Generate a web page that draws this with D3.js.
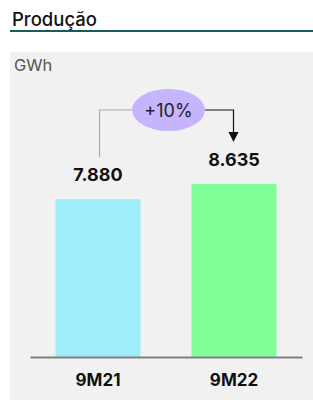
<!DOCTYPE html>
<html>
<head>
<meta charset="utf-8">
<script src="https://cdn.jsdelivr.net/npm/d3@7"></script>
<style>
  body { margin: 0; background: #fff; }
  text { font-family: Inter, "Noto Sans", sans-serif; }
</style>
</head>
<body>
<svg width="313" height="400"></svg>
<script>
// dados
var periodos = ["9M21", "9M22"];
var valores = [7880, 8635];
var rotulos = ["7.880", "8.635"];
var cores = ["#9deefa", "#80ff99"];
var variacao = "+10%";
var unidade = "GWh";
var titulo = "Produção";

var svg = d3.select("svg"),
  width = +svg.attr("width"),
  height = +svg.attr("height");

// titulo + linha
svg.append("text")
  .attr("x", 12).attr("y", 26)
  .attr("font-size", 18.5).attr("font-weight", 500)
  .attr("fill", "#111")
  .text(titulo);
svg.append("line")
  .attr("x1", 10).attr("x2", width)
  .attr("y1", 31).attr("y2", 31)
  .attr("stroke", "#1d5a5c").attr("stroke-width", 2);

// painel cinza
svg.append("rect")
  .attr("x", 10).attr("y", 52)
  .attr("width", width - 10).attr("height", height - 52)
  .attr("fill", "#f1f1f1");

svg.append("text")
  .attr("x", 14).attr("y", 71)
  .attr("font-size", 16.5).attr("fill", "#555")
  .text(unidade);

var base = 357;
var x = d3.scaleBand().domain(periodos).range([30, 302]).paddingInner(0.375).paddingOuter(0.1875);
var y = d3.scaleLinear().domain([0, 8635]).range([base, 184]);

// barras
svg.append("g").selectAll("rect")
  .data(valores)
  .enter().append("rect")
  .attr("x", function(d, i) { return x(periodos[i]); })
  .attr("y", function(d) { return y(d); })
  .attr("width", x.bandwidth())
  .attr("height", function(d) { return base - y(d); })
  .attr("fill", function(d, i) { return cores[i]; });

// eixo
var eixo = svg.append("g").attr("transform", "translate(0," + base + ")")
  .call(d3.axisBottom(x).tickSize(0).tickPadding(17));
eixo.select(".domain").attr("stroke", "#808080").attr("stroke-width", 2);
eixo.selectAll("text")
  .attr("font-size", 17).attr("font-weight", 700).attr("fill", "#111")
  .style("font-family", "Inter, sans-serif");

// valores
svg.append("g").selectAll("text")
  .data(valores)
  .enter().append("text")
  .attr("x", function(d, i) { return x(periodos[i]) + x.bandwidth() / 2; })
  .attr("y", function(d) { return y(d) - 18; })
  .attr("text-anchor", "middle")
  .attr("font-size", 18).attr("font-weight", 700).attr("fill", "#111")
  .text(function(d, i) { return rotulos[i]; });

// conector da variacao
var cx0 = x(periodos[0]) + x.bandwidth() / 2 + 1.5,
  cx1 = x(periodos[1]) + x.bandwidth() / 2 - 0.5,
  ex = 168.5, ey = 110, rx = 36.5, ry = 21;

svg.append("path")
  .attr("d", "M" + cx0 + "," + (y(valores[0]) - 42) + "V" + ey + "H" + (ex - rx))
  .attr("fill", "none").attr("stroke", "#aaa").attr("stroke-width", 1.2);
svg.append("path")
  .attr("d", "M" + (ex + rx) + "," + ey + "H" + cx1 + "V" + 133)
  .attr("fill", "none").attr("stroke", "#111").attr("stroke-width", 1.2);
svg.append("path")
  .attr("d", "M" + (cx1 - 5) + ",132L" + (cx1 + 5) + ",132L" + cx1 + ",142Z")
  .attr("fill", "#111");

svg.append("ellipse")
  .attr("cx", ex).attr("cy", ey).attr("rx", rx).attr("ry", ry)
  .attr("fill", "#c6b4ff");
svg.append("text")
  .attr("x", ex).attr("y", ey + 7)
  .attr("text-anchor", "middle")
  .attr("font-size", 18).attr("fill", "#222")
  .text(variacao);
</script>
</body>
</html>
